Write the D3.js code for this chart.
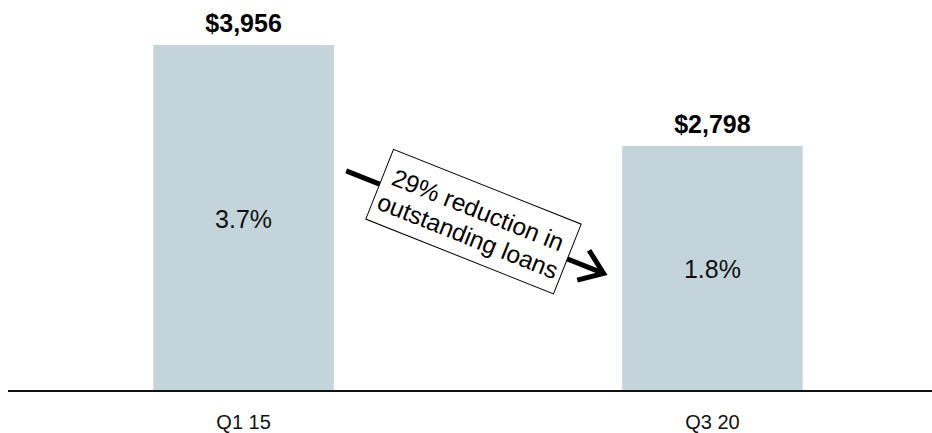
<!DOCTYPE html>
<html>
<head>
<meta charset="utf-8">
<script src="https://cdn.jsdelivr.net/npm/d3@7"></script>
<style>
  html, body { margin: 0; padding: 0; background: #fff; }
  svg { display: block; font-family: Arial, "Liberation Sans", sans-serif; }
</style>
</head>
<body>
<svg id="chart" width="932" height="433"></svg>
<script>
// ---- data ----
const categories = ["Q1 15", "Q3 20"];
const loanValues = [3956, 2798];
const valueLabels = ["$3,956", "$2,798"];
const rateLabels = ["3.7%", "1.8%"];
const annotationLines = ["29% reduction in", "outstanding loans"];

// ---- layout ----
const W = 932, H = 433;
const baseY = 390, topY = 45;
const svg = d3.select("#chart");

const x = d3.scaleBand()
  .domain(categories)
  .range([8, 948])
  .paddingInner(0.615)
  .paddingOuter(0.31);

const y = d3.scaleLinear()
  .domain([0, d3.max(loanValues)])
  .range([baseY, topY]);

const data = categories.map((c, i) => ({
  cat: c, v: loanValues[i], label: valueLabels[i], rate: rateLabels[i]
}));

// bars
svg.append("g").selectAll("rect")
  .data(data).join("rect")
  .attr("x", d => x(d.cat))
  .attr("y", d => y(d.v))
  .attr("width", x.bandwidth())
  .attr("height", d => y(0) - y(d.v))
  .attr("fill", "#c3d4db");

// value labels
svg.append("g").selectAll("text")
  .data(data).join("text")
  .attr("x", d => x(d.cat) + x.bandwidth() / 2)
  .attr("y", d => y(d.v) - 13)
  .attr("text-anchor", "middle")
  .attr("font-weight", "bold")
  .attr("font-size", 25)
  .attr("fill", "#000")
  .text(d => d.label);

// rate labels inside bars
svg.append("g").selectAll("text")
  .data(data).join("text")
  .attr("x", d => x(d.cat) + x.bandwidth() / 2)
  .attr("y", d => (y(d.v) + y(0)) / 2 + 10)
  .attr("text-anchor", "middle")
  .attr("font-size", 25)
  .attr("fill", "#111")
  .text(d => d.rate);

// baseline axis
const xAxis = d3.axisBottom(x).tickSize(0).tickPadding(0);
const axisG = svg.append("g")
  .attr("transform", `translate(0,${baseY + 1})`)
  .attr("font-size", 20)
  .call(xAxis);
axisG.attr("font-size", 20).attr("font-family", "Arial, 'Liberation Sans', sans-serif");
axisG.select(".domain").remove();
axisG.append("line")
  .attr("x1", 8).attr("x2", W)
  .attr("y1", 0).attr("y2", 0)
  .attr("stroke", "#111").attr("stroke-width", 2);
axisG.selectAll(".tick text")
  .attr("y", 38)
  .attr("dy", 0)
  .style("font-size", "20px")
  .attr("fill", "#111");

// annotation arrow + rotated box
const cx = 473.5, cy = 221.6, ang = 21.7;
const ann = svg.append("g").attr("transform", `translate(${cx},${cy}) rotate(${ang})`);
ann.append("line")
  .attr("x1", -137).attr("y1", 0)
  .attr("x2", 138).attr("y2", 0)
  .attr("stroke", "#000").attr("stroke-width", 5);
ann.append("path")
  .attr("d", "M118,-16 L140,0 L118,16")
  .attr("fill", "none")
  .attr("stroke", "#000")
  .attr("stroke-width", 5)
  .attr("stroke-linejoin", "miter");
ann.append("rect")
  .attr("x", -101).attr("y", -37.5)
  .attr("width", 202).attr("height", 75)
  .attr("fill", "#fff")
  .attr("stroke", "#000")
  .attr("stroke-width", 1);
ann.selectAll("text.ann")
  .data(annotationLines).join("text")
  .attr("class", "ann")
  .attr("x", 0)
  .attr("y", (d, i) => -4 + i * 28)
  .attr("text-anchor", "middle")
  .attr("font-size", 24.5)
  .attr("fill", "#000")
  .text(d => d);
</script>
</body>
</html>
